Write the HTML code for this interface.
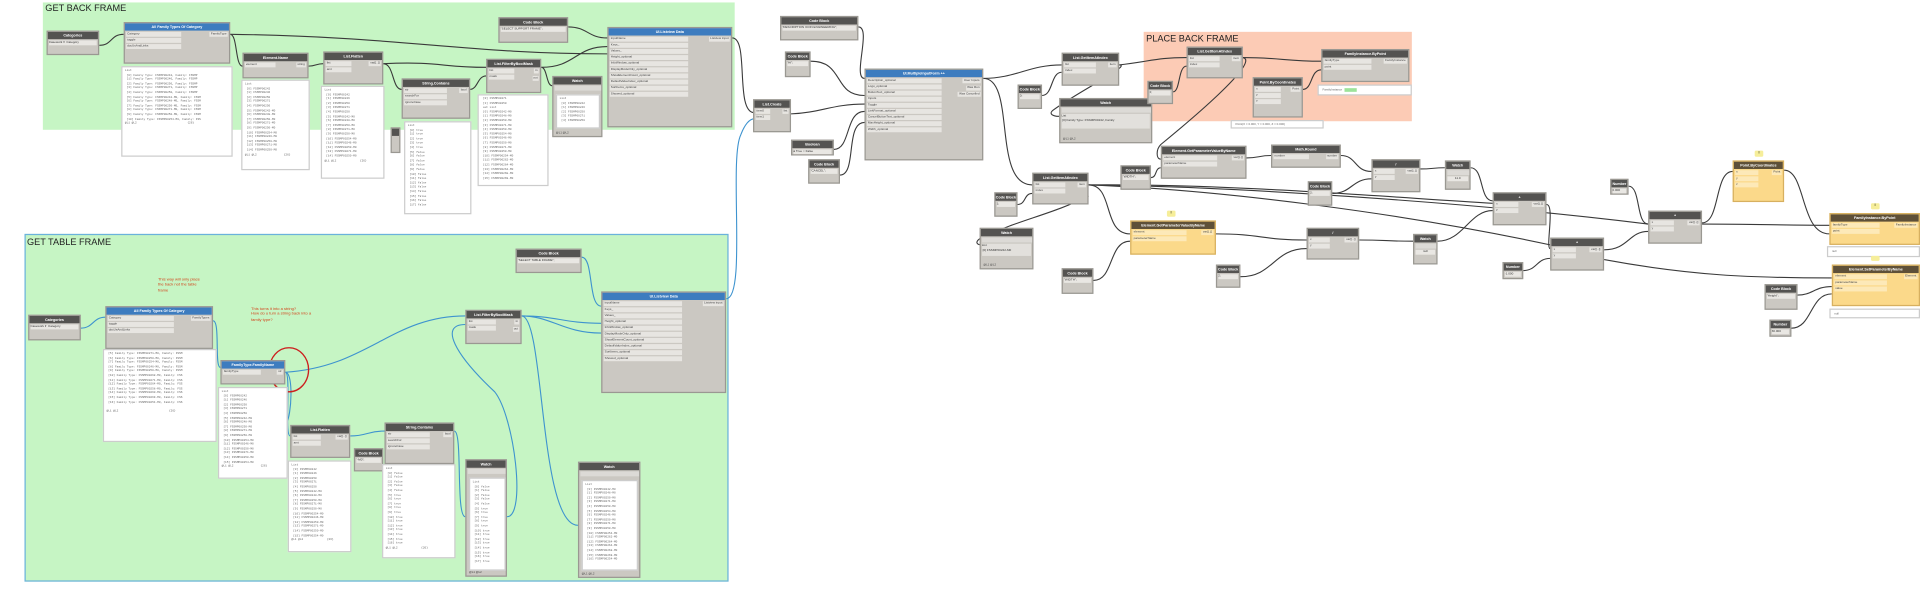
<!DOCTYPE html>
<html><head><meta charset="utf-8">
<style>
html,body{margin:0;padding:0;background:#fff;}
body{width:1920px;height:592px;overflow:hidden;position:relative;font-family:"Liberation Sans",sans-serif;}
#c{position:absolute;left:0;top:0;width:1568px;height:484px;transform:scale(1.22449);transform-origin:0 0;}
.fr{position:absolute;}
.ft{position:absolute;font-size:7.5px;color:#222;font-family:"Liberation Sans Narrow","Liberation Sans",sans-serif;}
.n{position:absolute;background:#cbc8c2;border:0.5px solid #9a9892;box-sizing:border-box;overflow:hidden;}
.h{background:#545351;color:#fff;font-size:3px;height:6px;line-height:6px;text-align:center;font-weight:bold;white-space:nowrap;overflow:hidden;}
.bl>.h{background:#3d7cbf;}
.yl{background:#fbd98a;border-color:#d7b060;}
.yl>.h{background:#5e5038;}
.p{background:#e7e5e1;height:4.2px;line-height:4.2px;font-size:2.5px;color:#444;margin:0.8px 0 0 0.8px;padding-left:1px;white-space:nowrap;overflow:hidden;position:relative;}
.yl .p{background:#fde9b8;}
.o{position:absolute;right:1px;background:#e7e5e1;height:4.2px;line-height:4.2px;font-size:2.5px;color:#444;padding:0 1px;white-space:nowrap;}
.yl .o{background:#fde9b8;}
.lst{position:absolute;background:#fff;border:0.5px solid #ccc;box-sizing:border-box;font-size:2.3px;line-height:3.6px;color:#666;padding:1px 2px;overflow:hidden;white-space:pre;font-family:"Liberation Mono",monospace;}
.cb{background:#e9e7e3;font-size:2.5px;height:4.5px;line-height:4.5px;margin:0.8px;color:#333;white-space:nowrap;overflow:hidden;}
.red{position:absolute;color:#d2461e;font-size:3.3px;line-height:4.3px;white-space:pre;}
.out{position:absolute;background:#fff;border:0.5px solid #ccc;box-sizing:border-box;font-size:2.4px;line-height:7px;color:#666;padding-left:3px;white-space:nowrap;overflow:hidden;}
svg{position:absolute;left:0;top:0;}
</style></head><body>
<div id="c">
<div class="fr" style="left:35px;top:2px;width:565px;height:104px;background:#c6f5c4;"></div>
<div class="ft" style="left:37px;top:2px;">GET BACK FRAME</div>
<div class="fr" style="left:20px;top:191px;width:575px;height:284px;background:#c6f5c4;border:0.8px solid #6bb2dc;box-sizing:border-box;"></div>
<div class="ft" style="left:22px;top:193px;">GET TABLE FRAME</div>
<div class="fr" style="left:934px;top:26px;width:219px;height:73px;background:#fccbb5;"></div>
<div class="ft" style="left:936px;top:27px;">PLACE BACK FRAME</div>

<svg width="1568" height="484" viewBox="0 0 1568 484">
<g fill="none" stroke="#3a3a3a" stroke-width="0.9">
<path d="M81 37 C92 37 90 28 101 28"/>
<path d="M188 28 C194 28 192 54 198 54"/>
<path d="M188 28 C330 30 380 44 496 44"/>
<path d="M252 54 C258 54 258 52 264 52"/>
<path d="M313 52 C322 52 320 73 328 73"/>
<path d="M313 52 C360 50 360 55 397 55"/>
<path d="M384 73 C390 73 390 62 397 62"/>
<path d="M442 55 C470 55 470 38 496 38"/>
<path d="M442 55 C447 55 446 70 451 70"/>
<path d="M464 22 C480 22 480 31 496 31"/>
<path d="M598 31 C612 31 600 92 616 92"/>
<path d="M701 22 C712 22 696 64 706 64"/>
<path d="M662 50 C690 50 680 78 706 78"/>
<path d="M646 93 C670 92 680 85 706 85"/>
<path d="M681 122 C695 122 690 91 706 91"/>
<path d="M686 143 C700 143 690 100 706 100"/>
<path d="M803 64 C830 64 840 53 867 53"/>
<path d="M803 64 C830 64 810 151 843 151"/>
<path d="M851 78 C860 78 858 59 867 59"/>
<path d="M914 53 C925 53 880 75 860 90 C856 93 860 95 865 95"/>
<path d="M914 53 C940 50 945 47 969 47"/>
<path d="M958 75 C964 75 962 54 969 54"/>
<path d="M1015 47 C1045 47 1050 50 1079 50"/>
<path d="M1015 47 C1030 50 970 100 948 118 C944 122 944 130 948 130"/>
<path d="M1064 73 C1072 73 1070 57 1079 57"/>
<path d="M1018 129 C1028 129 1028 127 1038 127"/>
<path d="M1095 127 C1108 127 1106 140 1120 140"/>
<path d="M1088 158 C1104 158 1104 146 1120 146"/>
<path d="M940 145 C945 145 943 137 948 137"/>
<path d="M889 151 C910 151 900 191 923 191"/>
<path d="M889 151 C1000 150 1120 160 1219 166"/>
<path d="M889 151 C1000 155 1150 175 1266 200"/>
<path d="M889 151 C1000 152 1200 165 1346 183"/>
<path d="M831 167 C838 167 836 158 843 158"/>
<path d="M889 160 C860 175 830 180 800 195 C796 198 798 200 802 200"/>
<path d="M893 229 C910 229 905 197 923 197"/>
<path d="M993 191 C1030 191 1030 196 1067 196"/>
<path d="M1013 226 C1040 226 1040 203 1067 203"/>
<path d="M1160 138 C1170 138 1170 137 1180 137"/>
<path d="M1201 137 C1212 137 1208 164 1219 164"/>
<path d="M1110 196 C1132 196 1132 197 1154 197"/>
<path d="M1174 197 C1195 197 1200 172 1219 172"/>
<path d="M1263 167 C1270 167 1262 203 1266 203"/>
<path d="M1244 221 C1255 221 1255 211 1266 211"/>
<path d="M1310 204 C1330 204 1330 189 1346 189"/>
<path d="M1310 212 C1380 225 1430 227 1496 227"/>
<path d="M1330 152 C1340 152 1336 183 1346 183"/>
<path d="M1390 182 C1405 182 1400 140 1415 140"/>
<path d="M1390 183 C1430 183 1460 184 1494 184"/>
<path d="M1457 139 C1475 139 1470 191 1494 191"/>
<path d="M1468 241 C1480 241 1482 234 1496 234"/>
<path d="M1463 268 C1480 268 1478 240 1496 240"/>
</g>
<g fill="none" stroke="#3e93cf" stroke-width="0.9">
<path d="M66 268 C76 268 76 259 86 259"/>
<path d="M174 262 C180 262 175 300 180 300"/>
<path d="M233 304 C240 304 238 340 234 345"/>
<path d="M233 304 C300 300 320 258 380 258"/>
<path d="M233 304 C238 304 232 356 237 356"/>
<path d="M286 356 C300 356 300 352 314 352"/>
<path d="M371 352 C378 352 372 422 380 422"/>
<path d="M414 422 C430 422 420 340 404 320 C372 290 358 265 380 265"/>
<path d="M426 258 C455 258 460 264 491 264"/>
<path d="M426 258 C450 258 460 272 491 272"/>
<path d="M426 258 C445 258 440 429 472 429"/>
<path d="M475 210 C485 210 480 250 491 250"/>
<path d="M593 244 C610 244 595 130 605 110 C608 102 612 97 616 97"/>
</g>
<ellipse cx="236" cy="302" rx="16" ry="18" fill="none" stroke="#cc1f1f" stroke-width="1.1"/>
</svg>

<div class="n" style="left:38px;top:25px;width:43px;height:20px;"><div class="h">Categories</div><div class="cb">Casework ▾ &nbsp;Category</div></div>
<div class="n bl" style="left:101px;top:18px;width:87px;height:34px;"><div class="h">All Family Types Of Category</div><div class="o" style="top:7px">FamilyType</div><div class="p" style="width:44px">Category</div><div class="p" style="width:44px">toggle</div><div class="p" style="width:44px">docUsAndLinks</div></div>
<div class="lst" style="left:99px;top:54px;width:91px;height:74px;">List
 [0] Family Type: FSSMP00242, Family: FSSMP
 [1] Family Type: FSSMP00246, Family: FSSMP
 [2] Family Type: FSSMP00250, Family: FSSMP
 [3] Family Type: FSSMP00271, Family: FSSMP
 [4] Family Type: FSSMP00250, Family: FSSMP
 [5] Family Type: FSSMP00242-M0, Family: FSSM
 [6] Family Type: FSSMP00248-M0, Family: FSSM
 [7] Family Type: FSSMP00250-M0, Family: FSSM
 [8] Family Type: FSSMP00271-M0, Family: FSSM
 [9] Family Type: FSSMP00250-M0, Family: FSSM
 [10] Family Type: FSSMP00254-M0, Family: FSS
@L1 @L2                              {26}</div>
<div class="n" style="left:198px;top:43px;width:54px;height:21px;"><div class="h">Element.Name</div><div class="o" style="top:7px">string</div><div class="p" style="width:24px">element</div></div>
<div class="lst" style="left:197px;top:65px;width:56px;height:74px;">List
 [0] FSSMP00242
 [1] FSSMP00246
 [2] FSSMP00250
 [3] FSSMP00271
 [4] FSSMP00250
 [5] FSSMP00242-M0
 [6] FSSMP00248-M0
 [7] FSSMP00250-M0
 [8] FSSMP00271-M0
 [9] FSSMP00250-M0
 [10] FSSMP00254-M0
 [11] FSSMP00246-M0
 [12] FSSMP00250-M0
 [13] FSSMP00271-M0
 [14] FSSMP00250-M0
@L1 @L2                {26}</div>
<div class="n" style="left:264px;top:42px;width:49px;height:27px;"><div class="h">List.Flatten</div><div class="o" style="top:7px">var[]..[]</div><div class="p" style="width:20px">list</div><div class="p" style="width:20px">amt</div></div>
<div class="lst" style="left:262px;top:70px;width:52px;height:76px;">List
 [0] FSSMP00242
 [1] FSSMP00246
 [2] FSSMP00250
 [3] FSSMP00271
 [4] FSSMP00250
 [5] FSSMP00242-M0
 [6] FSSMP00248-M0
 [7] FSSMP00250-M0
 [8] FSSMP00271-M0
 [9] FSSMP00250-M0
 [10] FSSMP00254-M0
 [11] FSSMP00246-M0
 [12] FSSMP00250-M0
 [13] FSSMP00271-M0
 [14] FSSMP00250-M0
@L1 @L2              {26}</div>
<div class="n" style="left:319px;top:104px;width:8px;height:21px;"><div class="h"></div></div>
<div class="n" style="left:328px;top:64px;width:56px;height:33px;"><div class="h">String.Contains</div><div class="o" style="top:7px">bool</div><div class="p" style="width:34px">str</div><div class="p" style="width:34px">searchFor</div><div class="p" style="width:34px">ignoreCase</div></div>
<div class="lst" style="left:330px;top:99px;width:55px;height:76px;">List
 [0] true
 [1] true
 [2] true
 [3] true
 [4] true
 [5] false
 [6] false
 [7] false
 [8] false
 [9] false
 [10] false
 [11] false
 [12] false
 [13] false
 [14] false
 [15] false
 [16] false
 [17] false</div>
<div class="n" style="left:397px;top:48px;width:45px;height:28px;"><div class="h">List.FilterByBoolMask</div><div class="o" style="top:7px">in</div><div class="o" style="top:12.5px">out</div><div class="p" style="width:20px">list</div><div class="p" style="width:20px">mask</div></div>
<div class="lst" style="left:390px;top:77px;width:58px;height:75px;"> [0] FSSMP00271
 [1] FSSMP00250
 out List
 [0] FSSMP00242-M0
 [1] FSSMP00248-M0
 [2] FSSMP00250-M0
 [3] FSSMP00271-M0
 [4] FSSMP00250-M0
 [5] FSSMP00254-M0
 [6] FSSMP00246-M0
 [7] FSSMP00250-M0
 [8] FSSMP00271-M0
 [9] FSSMP00250-M0
 [10] FSSMP00254-M0
 [11] FSSMP00262-M0
 [12] FSSMP00264-M0
 [13] FSSMP00264-M0
 [14] FSSMP00268-M0
 [15] FSSMP00269-M0</div>
<div class="n" style="left:451px;top:62px;width:41px;height:50px;"><div class="h">Watch</div><div class="p" style="width:37px;background:#dcdad6"> </div><div class="lst" style="left:2px;top:14px;width:36px;height:28px;position:absolute;">List
 [0] FSSMP00242
 [1] FSSMP00246
 [2] FSSMP00250
 [3] FSSMP00271
 [4] FSSMP00250</div><div style="position:absolute;left:2px;bottom:1px;font-size:2.3px;color:#444">@L1 @L2</div></div>
<div class="n" style="left:407px;top:14px;width:57px;height:21px;"><div class="h">Code Block</div><div class="cb">"SELECT SUPPORT FRAME";</div></div>
<div class="n bl" style="left:496px;top:22px;width:102px;height:82px;"><div class="h">UI.Listview Data</div><div class="o" style="top:7px">Listview input</div>
<div class="p" style="width:63px">inputName</div><div class="p" style="width:63px">Keys_</div><div class="p" style="width:63px">Values_</div><div class="p" style="width:63px">Height_optional</div><div class="p" style="width:63px">InfoWindow_optional</div><div class="p" style="width:63px">DisplayModeOnly_optional</div><div class="p" style="width:63px">ShowElementCount_optional</div><div class="p" style="width:63px">DefaultValueIndex_optional</div><div class="p" style="width:63px">SortItems_optional</div><div class="p" style="width:63px">Showed_optional</div></div>

<div class="red" style="left:129px;top:226px;">This way will only place
the back not the table
frame</div>
<div class="red" style="left:205px;top:250px;">This turns it into a string?
How do u turn a string back into a
family type?</div>
<div class="n" style="left:23px;top:257px;width:43px;height:21px;"><div class="h">Categories</div><div class="cb">Casework ▾ &nbsp;Category</div></div>
<div class="n bl" style="left:86px;top:250px;width:88px;height:35px;"><div class="h">All Family Types Of Category</div><div class="o" style="top:7px">FamilyTypes</div><div class="p" style="width:53px">Category</div><div class="p" style="width:53px">toggle</div><div class="p" style="width:53px">docUsAndLinks</div></div>
<div class="lst" style="left:84px;top:285px;width:93px;height:76px;"> [5] Family Type: FSSMP00271-M0, Family: FSSM
 [6] Family Type: FSSMP00250-M0, Family: FSSM
 [7] Family Type: FSSMP00254-M0, Family: FSSM
 [8] Family Type: FSSMP00246-M0, Family: FSSM
 [9] Family Type: FSSMP00250-M0, Family: FSSM
 [10] Family Type: FSSMP00268-M0, Family: FSS
 [11] Family Type: FSSMP00271-M0, Family: FSS
 [12] Family Type: FSSMP00264-M0, Family: FSS
 [13] Family Type: FSSMP00258-M0, Family: FSS
 [14] Family Type: FSSMP00260-M0, Family: FSS
 [15] Family Type: FSSMP00269-M0, Family: FSS
 [16] Family Type: FSSMP00254-M0, Family: FSS

@L1 @L2                              {26}</div>
<div class="n bl" style="left:180px;top:294px;width:53px;height:20px;"><div class="h">FamilyType.FamilyName</div><div class="o" style="top:7px">str</div><div class="p" style="width:30px">familyType</div></div>
<div class="lst" style="left:178px;top:316px;width:57px;height:75px;">List
 [0] FSSMP00242
 [1] FSSMP00246
 [2] FSSMP00250
 [3] FSSMP00271
 [4] FSSMP00250
 [5] FSSMP00242-M0
 [6] FSSMP00248-M0
 [7] FSSMP00250-M0
 [8] FSSMP00271-M0
 [9] FSSMP00250-M0
 [10] FSSMP00254-M0
 [11] FSSMP00246-M0
 [12] FSSMP00250-M0
 [13] FSSMP00271-M0
 [14] FSSMP00250-M0
 [15] FSSMP00254-M0
@L1 @L2                {26}</div>
<div class="n" style="left:237px;top:347px;width:49px;height:27px;"><div class="h">List.Flatten</div><div class="o" style="top:7px">var[]..[]</div><div class="p" style="width:22px">list</div><div class="p" style="width:22px">amt</div></div>
<div class="lst" style="left:235px;top:376px;width:52px;height:75px;">List
 [0] FSSMP00242
 [1] FSSMP00246
 [2] FSSMP00250
 [3] FSSMP00271
 [4] FSSMP00250
 [5] FSSMP00242-M0
 [6] FSSMP00248-M0
 [7] FSSMP00250-M0
 [8] FSSMP00271-M0
 [9] FSSMP00250-M0
 [10] FSSMP00254-M0
 [11] FSSMP00246-M0
 [12] FSSMP00250-M0
 [13] FSSMP00271-M0
 [14] FSSMP00250-M0
 [15] FSSMP00254-M0
@L1 @L2              {26}</div>
<div class="n" style="left:289px;top:366px;width:24px;height:19px;"><div class="h">Code Block</div><div class="cb">"-M0";</div></div>
<div class="n" style="left:314px;top:345px;width:57px;height:34px;"><div class="h">String.Contains</div><div class="o" style="top:7px">bool</div><div class="p" style="width:34px">str</div><div class="p" style="width:34px">searchFor</div><div class="p" style="width:34px">ignoreCase</div></div>
<div class="lst" style="left:312px;top:379px;width:60px;height:77px;">List
 [0] false
 [1] false
 [2] false
 [3] false
 [4] false
 [5] true
 [6] true
 [7] true
 [8] true
 [9] true
 [10] true
 [11] true
 [12] true
 [13] true
 [14] true
 [15] true
 [16] true
@L1 @L2              {26}</div>
<div class="n" style="left:380px;top:375px;width:34px;height:96px;"><div class="h">Watch</div><div class="p" style="width:30px;background:#dcdad6"> </div><div class="lst" style="left:2px;top:14px;width:30px;height:76px;position:absolute;">List
 [0] false
 [1] false
 [2] false
 [3] false
 [4] false
 [5] true
 [6] true
 [7] true
 [8] true
 [9] true
 [10] true
 [11] true
 [12] true
 [13] true
 [14] true
 [15] true
 [16] true
 [17] true</div><div style="position:absolute;left:2px;bottom:1px;font-size:2.3px;color:#444">@L1 @L2</div></div>
<div class="n" style="left:380px;top:253px;width:46px;height:28px;"><div class="h">List.FilterByBoolMask</div><div class="o" style="top:7px">in</div><div class="o" style="top:12.5px">out</div><div class="p" style="width:22px">list</div><div class="p" style="width:22px">mask</div></div>
<div class="n" style="left:421px;top:203px;width:54px;height:20px;"><div class="h">Code Block</div><div class="cb">"SELECT TABLE FRAME";</div></div>
<div class="n bl" style="left:491px;top:238px;width:102px;height:83px;"><div class="h">UI.Listview Data</div><div class="o" style="top:7px">Listview input</div>
<div class="p" style="width:63px">inputName</div><div class="p" style="width:63px">Keys_</div><div class="p" style="width:63px">Values_</div><div class="p" style="width:63px">Height_optional</div><div class="p" style="width:63px">InfoWindow_optional</div><div class="p" style="width:63px">DisplayModeOnly_optional</div><div class="p" style="width:63px">ShowElementCount_optional</div><div class="p" style="width:63px">DefaultValueIndex_optional</div><div class="p" style="width:63px">SortItems_optional</div><div class="p" style="width:63px">Showed_optional</div></div>
<div class="n" style="left:472px;top:377px;width:51px;height:95px;"><div class="h">Watch</div><div class="p" style="width:47px;background:#dcdad6"> </div><div class="lst" style="left:2px;top:14px;width:46px;height:74px;position:absolute;">List
 [0] FSSMP00242-M0
 [1] FSSMP00248-M0
 [2] FSSMP00250-M0
 [3] FSSMP00271-M0
 [4] FSSMP00250-M0
 [5] FSSMP00254-M0
 [6] FSSMP00246-M0
 [7] FSSMP00250-M0
 [8] FSSMP00271-M0
 [9] FSSMP00250-M0
 [10] FSSMP00254-M0
 [11] FSSMP00262-M0
 [12] FSSMP00264-M0
 [13] FSSMP00264-M0
 [14] FSSMP00268-M0
 [15] FSSMP00269-M0
 [16] FSSMP00254-M0</div><div style="position:absolute;left:2px;bottom:1px;font-size:2.3px;color:#444">@L1 @L2</div></div>

<div class="n" style="left:615px;top:81px;width:31px;height:27px;"><div class="h">List.Create</div><div class="o" style="top:7px">list</div><div class="p" style="width:11px">item0</div><div class="p" style="width:11px">item1</div></div>
<div class="n" style="left:637px;top:13px;width:64px;height:20px;"><div class="h">Code Block</div><div class="cb">"DESCRIPTION ICON ENGINEERING";</div></div>
<div class="n" style="left:641px;top:42px;width:21px;height:21px;"><div class="h">Code Block</div><div class="cb">"Hi";</div></div>
<div class="n" style="left:646px;top:114px;width:35px;height:13px;"><div class="h">Boolean</div><div class="cb">● True ○ False</div></div>
<div class="n" style="left:660px;top:130px;width:26px;height:20px;"><div class="h">Code Block</div><div class="cb">"CANCEL";</div></div>
<div class="n bl" style="left:706px;top:56px;width:97px;height:75px;"><div class="h">UI.MultipleInputForm ++</div><div class="o" style="top:7px">User Inputs</div><div class="o" style="top:12.5px">Was Run</div><div class="o" style="top:18px">Was Cancelled</div>
<div class="p" style="width:60px">Description_optional</div><div class="p" style="width:60px">Logo_optional</div><div class="p" style="width:60px">ButtonText_optional</div><div class="p" style="width:60px">Inputs</div><div class="p" style="width:60px">Toggle</div><div class="p" style="width:60px">LinkFormat_optional</div><div class="p" style="width:60px">CancelButtonText_optional</div><div class="p" style="width:60px">MaxHeight_optional</div><div class="p" style="width:60px">Width_optional</div></div>
<div class="n" style="left:867px;top:43px;width:47px;height:27px;"><div class="h">List.GetItemAtIndex</div><div class="o" style="top:7px">item</div><div class="p" style="width:25px">list</div><div class="p" style="width:25px">index</div></div>
<div class="n" style="left:831px;top:69px;width:20px;height:20px;"><div class="h">Code Block</div><div class="cb">0;</div></div>
<div class="n" style="left:865px;top:80px;width:76px;height:37px;"><div class="h">Watch</div><div class="p" style="width:72px;background:#dcdad6"> </div><div class="cb" style="background:#e2e0dc;height:12px;line-height:4px;white-space:pre">List
 [0] Family Type: FSSMP00242, Family</div><div style="position:absolute;left:2px;bottom:1px;font-size:2.3px;color:#444">@L1 @L2</div></div>
<div class="n" style="left:969px;top:38px;width:46px;height:26px;"><div class="h">List.GetItemAtIndex</div><div class="o" style="top:7px">item</div><div class="p" style="width:24px">list</div><div class="p" style="width:24px">index</div></div>
<div class="n" style="left:937px;top:66px;width:21px;height:19px;"><div class="h">Code Block</div><div class="cb">0;</div></div>
<div class="n" style="left:1079px;top:40px;width:72px;height:27px;"><div class="h">FamilyInstance.ByPoint</div><div class="o" style="top:7px">FamilyInstance</div><div class="p" style="width:38px">familyType</div><div class="p" style="width:38px">point</div></div>
<div class="out" style="left:1076px;top:69px;width:77px;height:9px;">FamilyInstance &nbsp;&nbsp;<span style="background:#9de39a;color:#9de39a">xxxxxxxx</span></div>
<div class="n" style="left:1023px;top:63px;width:41px;height:33px;"><div class="h">Point.ByCoordinates</div><div class="o" style="top:7px">Point</div><div class="p" style="width:20px">x</div><div class="p" style="width:20px">y</div><div class="p" style="width:20px">z</div></div>
<div class="out" style="left:1005px;top:98px;width:76px;height:7px;line-height:6px">Point(X = 0.000, Y = 0.000, Z = 0.000)</div>
<div class="n" style="left:948px;top:119px;width:70px;height:27px;"><div class="h">Element.GetParameterValueByName</div><div class="o" style="top:7px">var[]..[]</div><div class="p" style="width:43px">element</div><div class="p" style="width:43px">parameterName</div></div>
<div class="n" style="left:915px;top:135px;width:25px;height:20px;"><div class="h">Code Block</div><div class="cb">"WIDTH";</div></div>
<div class="n" style="left:1038px;top:118px;width:57px;height:19px;"><div class="h">Math.Round</div><div class="o" style="top:7px">number</div><div class="p" style="width:28px">number</div></div>
<div class="n" style="left:1120px;top:130px;width:40px;height:27px;"><div class="h">/</div><div class="o" style="top:7px">var[]..[]</div><div class="p" style="width:16px">x</div><div class="p" style="width:16px">y</div></div>
<div class="n" style="left:1068px;top:148px;width:20px;height:20px;"><div class="h">Code Block</div><div class="cb">2;</div></div>
<div class="n" style="left:843px;top:141px;width:46px;height:26px;"><div class="h">List.GetItemAtIndex</div><div class="o" style="top:7px">item</div><div class="p" style="width:24px">list</div><div class="p" style="width:24px">index</div></div>
<div class="n" style="left:812px;top:157px;width:19px;height:20px;"><div class="h">Code Block</div><div class="cb">1;</div></div>
<div class="n" style="left:800px;top:186px;width:44px;height:34px;"><div class="h">Watch</div><div class="p" style="width:40px;background:#dcdad6"> </div><div class="cb" style="background:#e2e0dc;height:10px;line-height:4px;white-space:pre">List
 [0] FSSMP00242-M0</div><div style="position:absolute;left:2px;bottom:1px;font-size:2.3px;color:#444">@L1 @L2</div></div>
<div style="position:absolute;left:953px;top:172px;width:7px;height:5px;background:#f6ee9a;border-radius:1px;font-size:2px;text-align:center;line-height:5px">||</div>
<div class="n yl" style="left:923px;top:180px;width:70px;height:28px;"><div class="h">Element.GetParameterValueByName</div><div class="o" style="top:7px">var[]..[]</div><div class="p" style="width:43px">element</div><div class="p" style="width:43px">parameterName</div></div>
<div class="n" style="left:867px;top:219px;width:26px;height:21px;"><div class="h">Code Block</div><div class="cb">"WIDTH";</div></div>
<div class="n" style="left:1067px;top:186px;width:43px;height:26px;"><div class="h">/</div><div class="o" style="top:7px">var[]..[]</div><div class="p" style="width:16px">x</div><div class="p" style="width:16px">y</div></div>
<div class="n" style="left:993px;top:216px;width:20px;height:19px;"><div class="h">Code Block</div><div class="cb">2;</div></div>
<div class="n" style="left:1180px;top:131px;width:21px;height:24px;"><div class="h">Watch</div><div class="p" style="width:17px;background:#dcdad6"> </div><div class="cb" style="text-align:center">11.9</div></div>
<div class="n" style="left:1154px;top:191px;width:20px;height:25px;"><div class="h">Watch</div><div class="p" style="width:16px;background:#dcdad6"> </div><div class="cb" style="text-align:center">null</div></div>
<div class="n" style="left:1219px;top:157px;width:44px;height:27px;"><div class="h">+</div><div class="o" style="top:7px">var[]..[]</div><div class="p" style="width:18px">x</div><div class="p" style="width:18px">y</div></div>
<div class="n" style="left:1266px;top:194px;width:44px;height:27px;"><div class="h">+</div><div class="o" style="top:7px">var[]..[]</div><div class="p" style="width:18px">x</div><div class="p" style="width:18px">y</div></div>
<div class="n" style="left:1227px;top:214px;width:17px;height:14px;"><div class="h">Number</div><div class="cb">-1.000</div></div>
<div class="n" style="left:1315px;top:146px;width:15px;height:13px;"><div class="h">Number</div><div class="cb">0.000</div></div>
<div class="n" style="left:1346px;top:172px;width:44px;height:27px;"><div class="h">+</div><div class="o" style="top:7px">var[]..[]</div><div class="p" style="width:18px">x</div><div class="p" style="width:18px">y</div></div>
<div style="position:absolute;left:1433px;top:123px;width:7px;height:5px;background:#f6ee9a;border-radius:1px;font-size:2px;text-align:center;line-height:5px">||</div>
<div class="n yl" style="left:1415px;top:131px;width:42px;height:34px;"><div class="h">Point.ByCoordinates</div><div class="o" style="top:7px">Point</div><div class="p" style="width:18px">x</div><div class="p" style="width:18px">y</div><div class="p" style="width:18px">z</div></div>
<div style="position:absolute;left:1528px;top:166px;width:7px;height:5px;background:#f6ee9a;border-radius:1px;font-size:2px;text-align:center;line-height:5px">||</div>
<div class="n yl" style="left:1494px;top:174px;width:74px;height:26px;"><div class="h">FamilyInstance.ByPoint</div><div class="o" style="top:7px">FamilyInstance</div><div class="p" style="width:38px">familyType</div><div class="p" style="width:38px">point</div></div>
<div class="out" style="left:1492px;top:201px;width:76px;height:9px;line-height:8px">null</div>
<div style="position:absolute;left:1528px;top:209px;width:7px;height:4px;background:#f6ee9a;border-radius:1px;"></div>
<div class="n yl" style="left:1496px;top:216px;width:72px;height:34px;"><div class="h">Element.SetParameterByName</div><div class="o" style="top:7px">Element</div><div class="p" style="width:42px">element</div><div class="p" style="width:42px">parameterName</div><div class="p" style="width:42px">value</div></div>
<div class="out" style="left:1494px;top:252px;width:74px;height:8px;line-height:8px">null</div>
<div class="n" style="left:1441px;top:232px;width:27px;height:21px;"><div class="h">Code Block</div><div class="cb">"Height";</div></div>
<div class="n" style="left:1445px;top:261px;width:18px;height:14px;"><div class="h">Number</div><div class="cb">30.000</div></div>
</div>
</body></html>
